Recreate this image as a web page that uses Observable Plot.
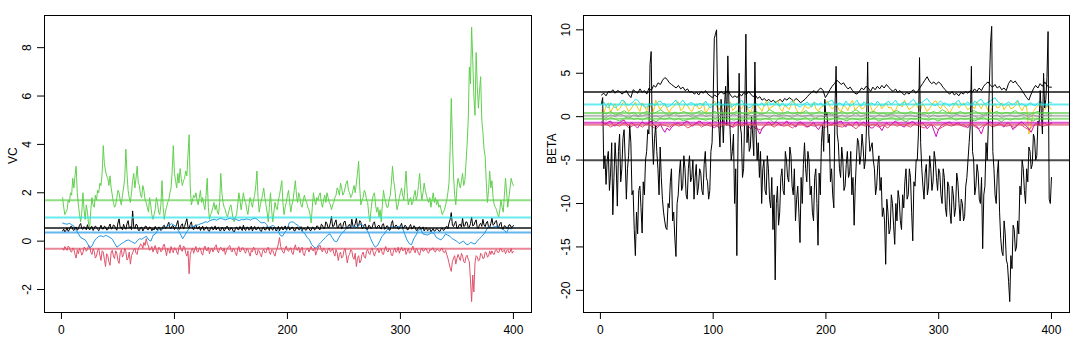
<!DOCTYPE html>
<html>
<head>
<meta charset="utf-8">
<script src="https://cdn.jsdelivr.net/npm/d3@7"></script>
<script src="https://cdn.jsdelivr.net/npm/@observablehq/plot@0.6"></script>
<style>
  html, body { margin: 0; padding: 0; background: #fff; }
  #wrap { display: flex; width: 1076px; height: 346px; }
</style>
</head>
<body>
<div id="wrap"></div>
<script>
// Iterations 1..400 (series sampled at regular steps across the chain)
const xTicks = [0, 100, 200, 300, 400];
const vcTicks = [-2, 0, 2, 4, 6, 8];
const betaTicks = [-20, -15, -10, -5, 0, 5, 10];

// ---------- VC panel (400 iterations) ----------
const vcBlack = [
0.42,0.50,0.38,0.45,0.55,0.40,0.47,0.60,0.62,0.48,0.44,0.56,0.58,0.45,0.51,0.66,0.73,0.52,0.49,0.60,
0.55,0.47,0.68,0.53,0.46,0.58,0.61,0.44,0.52,0.63,0.57,0.49,0.43,0.55,0.66,0.51,0.50,0.62,0.59,0.46,
0.48,0.60,0.71,0.50,0.53,0.67,0.64,0.52,0.45,0.75,0.92,0.56,0.58,0.47,0.70,0.55,0.49,0.72,0.85,0.54,
0.60,0.48,1.25,0.58,0.52,0.70,0.67,0.45,0.44,0.56,0.58,0.42,0.50,0.61,0.62,0.48,0.47,0.59,0.55,0.43,
0.52,0.46,0.61,0.50,0.45,0.58,0.57,0.44,0.49,0.62,0.66,0.52,0.54,0.68,0.78,0.55,0.51,0.64,0.63,0.48,
0.58,0.70,0.85,0.49,0.52,0.66,0.72,0.50,0.61,0.78,0.93,0.57,0.55,0.69,0.80,0.52,0.47,0.63,0.68,0.51,
0.52,0.61,0.44,0.55,0.62,0.45,0.48,0.59,0.57,0.43,0.41,0.54,0.60,0.47,0.50,0.63,0.46,0.55,0.58,0.44,
0.43,0.57,0.55,0.42,0.49,0.60,0.61,0.46,0.45,0.56,0.53,0.41,0.38,0.52,0.59,0.48,0.47,0.61,0.52,0.44,
0.66,0.50,0.44,0.58,0.57,0.45,0.50,0.62,0.42,0.53,0.61,0.47,0.48,0.59,0.55,0.43,0.40,0.56,0.58,0.46,
0.47,0.60,0.53,0.44,0.62,0.51,0.45,0.57,0.56,0.42,0.49,0.61,0.43,0.54,0.60,0.46,0.51,0.63,0.47,0.55,
0.62,0.46,0.50,0.59,0.55,0.42,0.44,0.57,0.58,0.47,0.48,0.60,0.41,0.53,0.54,0.45,0.47,0.61,0.52,0.44,
0.45,0.58,0.57,0.46,0.50,0.63,0.61,0.49,0.48,0.70,0.66,0.52,0.53,0.80,0.72,0.55,0.58,0.75,1.02,0.60,
0.62,0.77,0.88,0.56,0.55,0.70,0.74,0.50,0.60,0.79,0.83,0.57,0.52,0.66,0.69,0.54,0.91,0.62,0.58,0.72,
0.95,0.60,0.64,0.85,0.78,0.52,0.55,0.68,0.70,0.48,0.49,0.66,0.62,0.51,0.57,0.74,0.80,0.55,0.52,0.63,
0.66,0.54,0.50,0.69,0.72,0.49,0.55,0.64,0.61,0.45,0.47,0.73,0.85,0.56,0.58,0.67,0.63,0.50,0.51,0.62,
0.74,0.52,0.55,0.66,0.62,0.47,0.48,0.61,0.69,0.50,0.53,0.64,0.58,0.44,0.45,0.57,0.60,0.49,0.50,0.59,
0.42,0.51,0.55,0.43,0.47,0.52,0.38,0.46,0.52,0.41,0.44,0.53,0.49,0.42,0.40,0.51,0.55,0.44,0.47,0.58,
0.62,0.52,0.75,0.90,1.18,0.66,0.60,0.74,0.82,0.53,0.55,0.68,0.70,0.58,0.95,0.61,0.63,0.80,0.78,0.56,
0.58,0.72,1.00,0.63,0.66,0.79,0.88,0.55,0.52,0.69,0.74,0.61,0.90,0.67,0.60,0.75,0.82,0.58,0.56,0.73,
0.95,0.66,0.70,0.82,0.85,0.57,0.58,0.72,0.78,0.52,0.50,0.64,0.62,0.53,0.55,0.67,0.68,0.57,0.60,0.65];

const vcRed = [
-0.30,-0.38,-0.22,-0.31,-0.38,-0.20,-0.25,-0.42,-0.45,-0.28,-0.33,-0.55,-0.70,-0.36,-0.52,-0.30,-0.40,-0.58,-0.48,-0.25,
-0.28,-0.42,-0.35,-0.18,-0.20,-0.46,-0.55,-0.32,-0.42,-0.70,-0.62,-0.38,-0.30,-0.58,-0.80,-0.40,-0.45,-0.75,-1.05,-0.52,
-0.60,-0.85,-1.00,-0.45,-0.38,-0.62,-0.72,-0.40,-0.50,-0.80,-0.92,-0.48,-0.35,-0.66,-0.55,-0.30,-0.42,-0.78,-0.70,-0.45,
-0.95,-0.60,-0.48,-0.36,-0.30,-0.50,-0.55,-0.28,-0.25,-0.12,-0.15,-0.30,-0.05,-0.18,0.10,-0.10,-0.20,-0.38,-0.32,-0.22,
-0.45,-0.30,-0.18,-0.40,-0.52,-0.26,-0.28,-0.44,-0.40,-0.20,-0.12,-0.36,-0.60,-0.30,-0.35,-0.50,-0.22,-0.38,-0.48,-0.27,
-0.30,-0.45,-0.55,-0.25,-0.15,-0.38,-0.42,-0.20,-0.25,-0.50,-0.62,-0.40,-1.35,-0.55,-0.38,-0.28,-0.50,-0.35,-0.22,-0.44,
-0.45,-0.28,-0.30,-0.50,-0.58,-0.32,-0.20,-0.38,-0.40,-0.25,-0.52,-0.36,-0.28,-0.45,-0.35,-0.22,-0.15,-0.40,-0.48,-0.30,
-0.25,-0.36,-0.42,-0.28,-0.55,-0.40,-0.30,-0.22,-0.18,-0.38,-0.45,-0.30,-0.35,-0.50,-0.60,-0.32,-0.22,-0.45,-0.40,-0.27,
-0.28,-0.42,-0.50,-0.30,-0.35,-0.48,-0.62,-0.38,-0.45,-0.25,-0.30,-0.52,-0.58,-0.36,-0.40,-0.55,-0.65,-0.42,-0.33,-0.47,
-0.48,-0.32,-0.25,-0.44,-0.55,-0.36,-0.38,-0.52,-0.62,-0.40,-0.30,-0.10,0.15,-0.22,-0.35,-0.46,-0.50,-0.30,-0.20,-0.38,
-0.42,-0.30,-0.28,-0.48,-0.55,-0.32,-0.15,-0.36,-0.38,-0.25,-0.48,-0.35,-0.25,-0.52,-0.60,-0.40,-0.35,-0.28,-0.45,-0.33,
-0.22,-0.38,-0.40,-0.25,-0.58,-0.42,-0.30,-0.20,-0.18,-0.36,-0.45,-0.28,-0.35,-0.48,-0.52,-0.33,-0.28,-0.44,-0.40,-0.30,
-0.50,-0.62,-0.35,-0.48,-0.80,-0.55,-0.45,-0.70,-0.65,-0.40,-0.30,-0.58,-0.90,-0.62,-0.55,-0.35,-0.40,-0.68,-0.75,-0.50,
-1.05,-0.72,-0.60,-0.90,-0.82,-0.55,-0.45,-0.66,-0.70,-0.42,-0.35,-0.50,-0.55,-0.36,-0.28,-0.48,-0.62,-0.44,-0.40,-0.30,
-0.48,-0.36,-0.30,-0.52,-0.55,-0.33,-0.22,-0.40,-0.45,-0.30,-0.35,-0.58,-0.60,-0.38,-0.28,-0.46,-0.42,-0.25,-0.50,-0.36,
-0.25,-0.40,-0.38,-0.28,-0.55,-0.42,-0.30,-0.50,-0.45,-0.32,-0.20,-0.38,-0.48,-0.30,-0.35,-0.52,-0.58,-0.36,-0.28,-0.42,
-0.40,-0.30,-0.32,-0.46,-0.50,-0.35,-0.38,-0.30,-0.28,-0.42,-0.45,-0.33,-0.35,-0.40,-0.42,-0.30,-0.30,-0.45,-0.48,-0.38,
-0.55,-0.70,-0.90,-1.10,-1.25,-0.85,-0.70,-0.60,-0.95,-0.72,-0.55,-0.68,-0.80,-0.50,-0.62,-0.85,-0.90,-0.65,-0.58,-0.75,
-0.85,-1.60,-2.50,-1.40,-2.10,-0.90,-0.60,-0.65,-0.82,-0.78,-0.50,-0.55,-0.72,-0.70,-0.45,-0.48,-0.66,-0.62,-0.40,-0.55,
-0.40,-0.52,-0.55,-0.38,-0.35,-0.46,-0.48,-0.32,-0.30,-0.44,-0.42,-0.36,-0.52,-0.40,-0.35,-0.48,-0.45,-0.30,-0.50,-0.42];

const vcGreen = [
1.80,1.40,1.10,1.20,1.30,1.70,1.60,2.00,1.90,2.60,2.20,2.70,3.10,2.00,1.50,1.10,0.80,1.20,2.00,1.30,
0.90,1.50,1.20,0.70,0.60,1.30,1.80,1.50,1.40,1.90,1.70,2.10,2.00,2.40,2.30,2.80,3.95,3.20,2.90,2.70,
2.60,2.30,2.70,2.20,1.90,1.60,1.40,1.50,1.80,2.10,2.00,1.70,1.50,1.90,2.20,2.60,3.80,2.80,2.10,1.80,
1.60,2.00,2.50,2.80,2.20,2.60,3.10,2.40,2.30,1.90,1.80,2.30,2.10,1.70,1.60,1.40,1.20,1.80,1.50,1.10,
0.90,1.10,1.30,1.80,1.60,1.20,1.10,1.50,2.50,1.40,0.90,1.20,1.40,1.60,1.70,2.00,2.20,2.90,3.95,2.80,
2.50,2.20,2.80,2.40,3.00,2.60,2.30,2.50,2.60,2.90,2.70,3.60,4.40,2.20,1.50,1.70,1.90,1.80,2.00,1.70,
1.50,1.80,2.10,1.60,1.80,1.50,1.30,1.90,2.60,1.40,0.90,1.10,1.20,1.40,1.60,1.30,1.50,1.20,1.10,1.60,
2.80,2.00,1.60,1.40,1.30,1.10,1.00,1.20,1.40,1.50,1.20,0.90,0.80,1.00,1.10,1.50,2.00,1.70,1.30,1.60,
2.00,1.70,1.60,1.30,1.10,1.50,1.80,1.60,1.40,1.70,1.90,2.30,2.90,1.80,1.20,1.50,1.70,1.90,2.20,1.80,
1.50,1.20,0.80,1.40,2.00,1.30,0.80,1.20,1.60,1.40,1.30,1.70,1.90,2.20,2.50,1.60,1.10,1.40,1.60,1.90,
2.10,1.60,1.20,1.50,1.70,2.10,2.50,1.90,1.60,2.00,1.80,1.50,1.40,1.70,1.90,1.70,1.60,1.40,1.30,1.10,
0.75,1.40,2.00,1.70,1.50,1.80,1.70,1.90,2.00,1.60,1.40,1.70,1.90,1.60,2.00,1.80,1.60,1.50,1.30,1.50,
1.60,1.80,1.90,2.20,2.10,1.90,2.40,2.20,1.90,2.00,2.20,2.40,2.50,2.10,2.00,1.80,1.90,2.10,2.30,2.00,
2.40,2.80,3.30,2.20,1.50,1.70,1.80,2.10,2.00,1.70,1.60,1.10,0.80,1.30,1.70,1.90,2.00,1.50,1.20,1.40,
1.00,1.30,0.80,1.50,2.10,1.80,1.60,1.40,1.40,1.70,1.90,2.40,3.10,2.50,2.20,1.70,1.30,1.50,1.80,2.00,
2.20,1.90,1.70,2.30,2.90,2.00,1.50,1.70,1.80,1.50,1.60,1.90,2.10,1.70,1.90,2.30,2.80,2.10,1.70,2.00,
2.40,2.10,1.90,1.70,1.60,1.80,1.40,1.70,2.00,1.60,1.80,1.50,1.70,1.40,1.50,1.30,1.10,1.20,1.30,1.50,
1.70,2.00,2.40,3.80,5.90,4.20,2.70,1.90,1.50,2.20,2.60,2.40,2.20,2.50,2.80,2.30,2.50,3.20,4.00,5.00,
7.20,6.50,8.85,7.50,6.00,5.20,7.80,6.40,5.50,6.20,6.80,5.00,4.50,3.80,3.50,2.40,1.60,2.10,2.90,2.20,
2.50,1.80,1.50,1.40,1.30,1.10,1.00,1.30,1.70,1.40,1.20,1.90,2.60,2.00,1.40,1.80,2.20,2.60,2.40,2.30];

const vcBlue = [
0.75,0.72,0.70,0.74,0.68,0.62,0.45,0.30,0.15,0.10,
0.05,-0.10,-0.28,-0.20,0.00,0.12,0.20,0.22,0.18,0.24,
0.20,0.15,0.08,-0.10,-0.25,-0.18,-0.10,-0.05,0.02,0.05,
0.00,-0.05,-0.10,0.02,0.10,0.08,0.15,0.20,0.05,0.00,
0.25,0.30,0.45,0.50,0.52,0.55,0.60,0.65,0.72,0.68,
0.60,0.45,0.30,0.10,0.25,0.40,0.55,0.62,0.60,0.65,
0.68,0.72,0.75,0.80,0.78,0.85,0.88,0.90,0.87,0.92,
0.95,0.90,0.88,0.92,0.95,0.90,0.93,0.88,0.85,0.90,
0.88,0.92,0.90,0.87,0.93,0.95,0.90,0.80,0.75,0.78,
0.70,0.55,0.62,0.65,0.55,0.45,0.25,0.20,0.35,0.45,
0.75,0.80,0.78,0.70,0.65,0.55,0.40,0.30,0.15,0.05,
-0.15,-0.25,-0.30,-0.15,-0.05,0.05,0.15,0.25,0.30,0.15,
0.00,-0.02,0.15,0.30,0.38,0.50,0.55,0.58,0.60,0.62,
0.55,0.68,0.70,0.60,0.50,0.35,0.10,-0.10,-0.25,-0.18,
0.00,0.20,0.30,0.45,0.52,0.60,0.58,0.55,0.60,0.62,
0.55,0.30,0.05,-0.10,-0.15,0.10,0.25,0.45,0.50,0.30,
0.28,0.25,0.30,0.35,0.32,0.15,0.10,0.05,0.15,0.30,
0.25,0.20,0.10,0.05,0.00,-0.10,-0.05,0.00,-0.12,-0.15,
-0.05,-0.08,-0.12,0.00,0.10,0.20,0.30,0.45,0.60,0.55,
0.58,0.60,0.62,0.55,0.50,0.45,0.35,0.55,0.50,0.60];

// posterior means drawn as horizontal lines
const vcMeanLabels = ["green", "cyan", "black", "blue", "red"];
const vcMeans = [1.69, 0.98, 0.54, 0.36, -0.31];

// ---------- BETA panel ----------
const betaBlackUpper = [
2.5,2.7,2.4,2.9,2.8,3.1,2.7,3.0,2.9,2.6,
2.8,3.0,2.5,2.2,3.1,2.9,2.7,3.2,2.8,3.0,
2.6,3.3,3.0,3.6,3.4,3.9,3.7,4.2,4.5,4.3,
3.9,3.7,3.5,3.3,3.6,3.2,3.4,3.0,3.2,2.8,
2.9,2.6,2.8,2.5,2.9,2.7,3.0,2.6,2.4,2.2,
2.5,2.3,2.7,2.9,2.6,2.8,3.0,2.5,2.2,2.4,
2.2,2.6,2.4,2.8,2.5,2.9,2.6,2.3,2.5,2.1,
2.3,1.9,2.1,1.8,2.0,1.7,1.9,1.6,1.8,2.0,
1.7,2.1,1.9,2.2,2.0,1.8,2.1,1.9,1.6,1.8,
2.0,2.3,2.6,2.8,3.0,2.7,3.1,3.3,3.0,2.2,
2.6,3.1,3.5,3.8,4.2,4.0,3.7,3.9,3.5,3.2,
3.4,3.0,2.7,2.6,2.9,3.3,3.1,3.5,3.3,2.9,
3.4,3.1,3.5,3.2,3.6,3.3,3.7,3.4,3.1,2.9,
3.2,2.8,3.0,2.7,2.5,2.8,2.6,2.9,3.1,2.7,
3.0,3.4,3.8,4.2,4.6,4.1,3.8,4.0,3.7,4.0,
3.8,3.4,3.1,2.8,2.6,2.9,2.5,2.7,2.4,2.8,
2.6,2.9,2.7,3.0,2.8,3.2,2.9,3.3,3.0,3.5,
3.8,4.0,3.6,3.4,3.7,3.3,3.5,3.1,3.3,3.0,
3.8,4.2,3.9,4.1,3.7,3.4,3.0,2.6,2.2,1.9,
2.6,3.2,3.6,3.3,3.8,3.5,4.0,3.6,3.4,3.4];

const betaBlackLower = [
1.5,2.2,-6.0,-4.5,-7.8,-5.0,-4.0,-8.5,-6.5,-3.0,-11.3,-7.0,-3.0,-5.5,-10.3,-4.0,-2.0,-7.5,-6.0,-2.5,
-1.5,-5.0,-9.5,-6.0,-4.5,-1.0,-3.0,-9.0,-8.5,-13.0,-16.0,-11.0,-13.5,-8.5,-8.0,-10.5,-13.4,-7.5,-9.0,-5.0,
-4.0,-1.5,-2.0,6.0,7.5,-2.0,-5.5,-2.5,-1.0,-4.0,-6.0,-9.0,-3.5,-7.0,-9.5,-11.0,-12.0,-12.8,-13.0,-10.0,
-10.5,-7.5,-6.0,-12.0,-11.0,-14.0,-16.1,-10.0,-9.0,-6.5,-5.0,-8.5,-8.0,-4.5,-6.0,-9.0,-9.5,-6.0,-4.5,-7.5,
-7.0,-5.0,-9.5,-7.0,-5.5,-9.0,-8.0,-6.0,-6.5,-8.5,-9.0,-5.5,-4.0,-7.0,-7.5,-9.5,-8.5,-4.0,-3.0,2.0,
9.0,9.5,10.0,1.0,-1.0,-3.5,2.0,0.5,-3.0,1.0,3.5,-1.0,7.0,1.5,-1.5,-5.0,-4.0,-2.0,-10.0,-6.0,
-16.0,-3.0,5.0,-1.0,-2.0,-7.0,-6.0,0.5,9.5,-3.0,-1.0,-4.0,-3.5,0.0,-2.0,-4.5,6.3,-1.5,-5.0,-3.0,
-7.0,-4.0,-10.0,-6.0,-5.0,-8.5,-9.0,-4.5,-6.0,-9.5,-10.5,-7.0,-13.0,-9.0,-18.8,-10.0,-8.0,-12.5,-11.0,-7.0,
-6.0,-8.5,-9.0,-4.0,-5.0,-7.0,-7.5,-3.5,-4.5,-8.0,-9.0,-6.0,-12.0,-9.5,-8.0,-11.0,-14.5,-7.0,-10.0,-5.5,
-3.0,-6.0,-7.5,-4.0,-5.0,-9.0,-8.0,-11.0,-12.0,-7.0,-6.0,-10.0,-14.8,-6.5,-9.0,-3.0,-1.0,-4.0,2.0,0.0,
0.5,-3.0,-2.0,-7.5,-6.0,-9.0,-10.5,1.0,5.8,-2.0,-3.0,-6.0,-7.0,-3.5,-5.0,-8.5,-8.0,-5.5,-4.0,-7.0,
-6.5,-4.0,-9.0,-7.0,-12.5,-8.0,-5.0,-2.5,-3.0,-5.5,-4.5,-2.0,-3.5,-6.0,-5.0,-1.0,6.3,-2.0,-4.0,-3.5,
-3.0,-5.0,-6.0,-9.0,-8.0,-5.5,-4.5,-8.5,-7.0,-11.5,-10.5,-12.0,-17.0,-9.5,-11.0,-13.5,-13.0,-9.0,-10.0,-12.5,
-14.7,-10.0,-12.0,-8.5,-9.5,-12.0,-13.0,-9.0,-10.5,-7.5,-6.0,-9.5,-9.0,-6.0,-7.0,-11.0,-14.3,-7.5,-8.0,-5.0,
-5.0,-2.0,6.8,-3.0,-6.0,-8.0,-9.5,-6.5,-5.5,-9.0,-8.0,-4.5,-6.0,-8.5,-7.5,-4.0,-5.0,-7.0,-8.5,-6.0,
-6.5,-9.0,-10.0,-6.0,-7.0,-10.5,-11.5,-7.5,-8.0,-11.0,-12.3,-8.0,-9.0,-11.5,-10.5,-6.5,-7.5,-10.0,-12.0,-9.5,
-10.0,-12.0,-11.5,-8.0,-7.0,-5.0,-3.0,-1.0,5.8,-4.0,-5.0,-9.0,-8.0,-5.5,-6.5,-9.5,-10.0,-7.0,-15.2,-9.0,
-8.0,-3.0,-5.0,-1.0,4.0,8.5,10.4,-4.0,-6.0,-9.0,-10.0,-6.5,-5.0,-11.0,-14.0,-15.5,-16.0,-12.0,-13.5,-16.5,
-17.0,-19.0,-21.3,-16.0,-17.5,-12.5,-13.0,-15.5,-15.0,-12.0,-13.5,-8.0,-9.0,-5.0,-6.0,-8.5,-10.0,-6.0,-7.5,-3.5,
-4.0,-6.0,-5.5,-2.0,-2.5,-5.0,-4.5,-0.5,-1.0,3.0,0.5,-2.0,5.0,1.0,2.0,4.5,9.8,-9.5,-10.0,-7.0];

const betaCyan = [
1.4,1.7,1.2,1.0,1.6,1.3,1.0,1.2,1.5,1.9,1.8,1.4,1.3,1.5,1.7,2.0,1.9,1.5,1.4,1.1,
1.1,1.3,1.6,1.4,1.3,1.7,1.8,1.5,1.5,1.1,1.2,1.4,1.7,1.9,1.4,1.6,1.9,1.5,1.3,1.6,
1.6,1.4,1.2,1.5,1.5,1.3,1.8,1.4,1.0,1.2,1.4,1.6,1.7,1.3,1.3,1.5,1.6,1.1,1.2,1.4,
1.5,1.7,1.9,1.4,1.3,1.0,1.1,1.4,1.6,1.3,1.4,1.6,1.2,1.5,1.7,1.4,1.5,1.8,1.3,1.2,
1.6,1.3,1.2,1.5,1.8,1.6,1.4,1.2,1.1,1.4,1.5,1.7,1.3,1.1,1.7,1.5,1.4,1.6,1.2,1.5,
1.6,1.8,1.9,1.4,1.3,1.6,1.5,1.2,1.8,1.5,1.2,1.4,1.6,1.9,1.4,1.2,1.7,1.5,1.3,1.6,
1.5,1.3,1.8,1.5,1.2,1.4,1.6,1.8,1.4,1.6,1.9,1.5,1.3,1.6,1.7,1.4,1.5,1.8,2.0,1.6,
1.4,1.6,1.7,1.9,2.1,1.7,1.5,1.3,1.3,1.6,1.8,1.5,1.6,1.4,1.2,1.5,1.5,1.7,1.9,1.4,
1.4,1.5,1.7,1.4,1.3,1.8,1.6,1.9,2.0,1.6,1.5,1.7,1.8,2.0,2.2,1.8,1.6,1.4,1.3,1.5,
1.7,1.5,1.4,1.6,1.9,1.4,1.5,1.3,1.2,1.5,1.6,1.3,1.3,1.6,1.8,1.5,1.4,1.2,1.7,1.6];

const betaYellow = [
0.8,0.4,1.2,1.6,0.5,1.0,1.5,0.7,0.9,1.4,1.8,1.1,0.6,0.9,1.3,1.7,1.0,0.6,1.6,1.2,
0.7,1.5,1.1,0.6,1.9,1.3,0.8,1.2,1.4,0.9,0.5,1.0,1.2,1.6,1.7,0.7,0.9,1.5,1.3,0.8,
0.6,1.2,1.5,0.9,1.0,1.6,0.4,0.8,1.2,1.5,1.8,1.1,0.8,1.3,1.4,0.6,1.1,1.7,0.7,1.0,
1.6,1.1,0.9,1.4,1.3,0.7,0.5,1.2,1.7,1.3,1.0,0.6,1.4,1.8,0.8,1.1,1.2,1.5,1.9,0.9,
0.6,1.3,1.1,0.8,1.5,1.9,0.9,0.5,0.3,0.8,1.3,1.0,1.0,1.4,1.6,0.8,0.7,1.1,1.2,1.6,
1.8,1.2,0.9,1.1,1.4,0.8,0.6,1.3,1.1,0.7,1.5,1.9,0.8,1.0,1.3,0.9,1.0,1.4,1.7,1.2,
0.5,0.9,1.2,1.5,0.9,1.2,1.6,1.0,1.1,0.6,0.7,1.3,1.4,1.1,1.9,1.3,0.8,1.0,1.2,1.6,
1.0,0.7,1.5,1.1,0.6,0.9,1.3,1.7,1.8,1.2,0.9,1.4,1.1,0.8,0.4,0.9,1.4,1.6,1.0,1.3,
1.6,1.2,0.8,1.0,1.2,0.9,1.7,1.3,0.9,1.5,1.3,0.7,0.6,1.1,1.5,1.0,1.1,1.6,0.8,1.2,
1.4,0.9,1.0,1.3,1.8,1.1,0.7,1.2,1.2,-2.0,-0.9,0.6,1.0,1.3,1.5,0.9,0.8,1.2,1.1,0.9];

const betaGreen1 = [
0.5,0.3,0.6,0.2,0.4,0.7,0.3,0.5,0.1,0.4,
0.6,0.3,0.5,0.8,0.4,0.2,0.5,0.3,0.6,0.4,
0.2,0.5,0.7,0.3,0.4,0.6,0.1,0.5,0.3,0.4,
0.7,0.4,0.2,0.5,0.6,0.3,0.4,0.8,0.5,0.2,
0.4,0.6,0.3,0.5,0.4,0.7,0.2,0.4,0.6,0.3,
0.5,0.2,0.4,0.6,0.3,0.5,0.8,0.4,0.3,0.5,
0.6,0.3,0.4,0.2,0.5,0.7,0.4,0.3,0.6,0.4,
0.2,0.5,0.3,0.6,0.4,0.8,0.5,0.3,0.4,0.6,
0.3,0.5,0.7,0.4,0.2,0.5,0.4,0.6,0.3,0.5,
0.4,0.7,0.3,0.5,0.2,0.4,0.6,0.4,0.5,0.3];

const betaGray = [
0.1,-0.1,0.2,0.0,0.3,0.1,-0.2,0.2,0.0,0.1,
0.3,0.0,0.1,-0.1,0.2,0.1,0.4,0.0,0.1,0.2,
-0.1,0.1,0.3,0.0,0.2,-0.2,0.1,0.2,0.0,0.3,
0.1,-0.1,0.2,0.1,0.0,0.3,0.1,-0.1,0.2,0.0,
0.2,0.1,-0.1,0.3,0.0,0.1,0.2,-0.2,0.1,0.0,
0.3,0.1,0.0,0.2,-0.1,0.1,0.4,0.0,0.2,0.1,
-0.1,0.2,0.0,0.1,0.3,0.0,-0.2,0.1,0.2,0.0,
0.1,0.3,-0.1,0.2,0.0,0.1,0.2,-0.1,0.3,0.1,
0.0,0.2,0.1,-0.2,0.1,0.3,0.0,0.2,-0.1,0.1,
0.2,0.0,0.1,0.3,-0.1,0.2,0.0,0.1,0.2,0.1];

const betaGreen2 = [
-0.2,-0.4,-0.1,-0.3,-0.5,-0.2,0.0,-0.3,-0.2,-0.4,
-0.1,-0.3,-0.6,-0.2,-0.3,-0.1,-0.4,-0.2,-0.5,-0.3,
-0.2,-0.1,-0.3,-0.4,-0.2,-0.6,-0.3,-0.1,-0.2,-0.4,
-0.3,-0.5,-0.2,-0.1,-0.3,-0.4,-0.2,-0.3,-0.7,-0.2,
-0.1,-0.3,-0.2,-0.4,-0.3,-0.1,-0.5,-0.2,-0.3,-0.2,
-0.4,-0.2,-0.1,-0.3,-0.5,-0.2,-0.3,-0.4,-0.1,-0.3,
-0.2,-0.5,-0.3,-0.2,-0.1,-0.4,-0.3,-0.6,-0.2,-0.3,
-0.1,-0.3,-0.4,-0.2,-0.5,-0.3,-0.2,-0.1,-0.4,-0.2,
-0.3,-0.2,-0.5,-0.3,-0.1,-0.4,-0.2,-0.3,-0.6,-0.2,
-0.4,-0.2,-0.3,-0.1,-0.3,-0.5,-0.2,-0.3,-0.2,-0.4];

const betaMagenta = [
-0.6,-0.8,-0.9,-0.6,-0.5,-0.9,-1.1,-0.8,-0.7,-0.5,-0.4,-0.8,-1.0,-0.7,-0.8,-1.1,-1.3,-0.9,-0.6,-0.8,
-0.9,-0.7,-0.5,-0.9,-1.2,-1.0,-0.8,-1.4,-1.8,-1.3,-1.6,-1.2,-1.0,-0.8,-0.7,-1.0,-0.9,-0.6,-0.5,-0.8,
-1.1,-0.9,-0.8,-0.5,-0.6,-0.9,-1.0,-0.8,-0.7,-1.1,-1.3,-1.0,-0.9,-0.6,-0.5,-0.9,-0.8,-1.1,-1.2,-0.7,
-0.6,-0.8,-1.0,-0.7,-0.8,-1.1,-1.4,-0.9,-0.7,-1.5,-2.0,-1.4,-1.1,-0.8,-0.6,-0.9,-0.9,-0.6,-0.7,-1.0,
-1.0,-0.7,-0.5,-0.9,-0.8,-1.0,-1.2,-0.7,-0.6,-0.8,-0.9,-1.2,-1.1,-0.8,-0.7,-1.2,-1.5,-1.0,-0.8,-0.6,
-0.6,-0.9,-1.0,-0.7,-0.8,-0.6,-0.5,-0.9,-1.2,-0.8,-0.9,-1.1,-0.7,-0.6,-1.1,-0.8,-0.6,-1.0,-0.9,-1.3,
-1.3,-1.0,-0.8,-1.2,-1.6,-1.1,-0.7,-0.9,-1.0,-0.7,-0.5,-0.8,-0.9,-1.1,-1.2,-0.8,-0.8,-0.6,-0.6,-0.9,
-1.0,-0.8,-0.7,-1.0,-1.4,-1.1,-0.9,-1.6,-2.3,-1.5,-1.1,-0.9,-0.8,-0.7,-0.6,-0.9,-1.0,-0.8,-0.7,-1.0,
-0.9,-1.1,-1.3,-0.9,-0.8,-1.0,-1.1,-1.5,-2.0,-1.2,-0.9,-0.7,-0.6,-0.8,-1.0,-0.9,-0.8,-1.0,-1.2,-0.8,
-0.7,-1.0,-1.5,-1.1,-0.9,-0.7,-0.6,-0.9,-1.1,-1.4,-1.8,-1.2,-0.8,-0.9,-1.0,-0.8,-0.7,-0.9,-0.9,-0.7];

const betaRed = [
-1.0,-0.8,-1.2,-0.9,-1.1,-0.7,-1.3,-1.0,-0.9,-1.2,
-0.8,-1.1,-1.4,-0.9,-1.0,-1.2,-0.8,-1.1,-0.9,-1.3,
-1.0,-0.7,-1.2,-0.9,-1.1,-1.0,-1.3,-0.8,-1.0,-1.2,
-0.9,-1.1,-0.8,-1.0,-1.4,-1.5,-1.0,-0.9,-1.2,-0.8,
-1.1,-1.0,-1.3,-0.9,-0.8,-1.2,-1.0,-1.1,-0.9,-1.3,
-1.0,-0.8,-1.1,-1.2,-0.9,-1.0,-1.4,-0.8,-1.1,-1.0,
-0.9,-1.2,-1.0,-1.3,-0.8,-1.1,-0.9,-1.0,-1.2,-0.8,
-1.1,-1.3,-0.9,-1.0,-1.5,-1.2,-0.9,-1.1,-0.8,-1.0,
-1.2,-0.9,-1.1,-1.4,-1.0,-0.8,-1.2,-1.0,-0.9,-1.1,
-1.0,-1.3,-0.8,-1.2,-1.5,-1.0,-0.9,-1.1,-1.0,-0.8];

const betaMeanLabels = ["black", "cyan", "green", "gray", "green", "magenta", "red", "black"];
const betaMeans = [2.83, 1.41, 0.42, 0.11, -0.23, -0.70, -0.92, -5.02];

// R 4.x default palette
const pal = {
  black: "#000000", red: "#DF536B", green: "#61D04F", blue: "#2297E6",
  cyan: "#28E2E5", magenta: "#CD0BBC", yellow: "#F5C710", gray: "#9E9E9E"
};

function rows(values) {
  const n = values.length;
  return values.map((v, i) => ({ iter: 1 + i * 399 / (n - 1), value: v }));
}

function panel({ yDomain, yTicks, label, traces, meanLabels, means, marginLeft }) {
  const ruleData = means.map((m, i) => ({ m, c: pal[meanLabels[i]] }));
  return Plot.plot({
    width: 538,
    height: 346,
    marginLeft,
    marginRight: 7,
    marginTop: 15,
    marginBottom: 34,
    x: { domain: [-15, 416] },
    y: { domain: yDomain },
    style: {
      fontFamily: "'Liberation Sans', Arial, sans-serif",
      fontSize: "12px",
      color: "#000",
      background: "#fff",
      overflow: "visible"
    },
    marks: [
      ...traces.map(([vals, col]) =>
        Plot.line(rows(vals), { x: "iter", y: "value", stroke: pal[col], strokeWidth: 1 })),
      Plot.ruleY(ruleData, { y: "m", stroke: "c", strokeWidth: 2, strokeOpacity: 0.7 }),
      Plot.frame({ stroke: "#000", strokeWidth: 1 }),
      Plot.axisX({ ticks: xTicks, tickSize: 7, tickPadding: 6, tickFormat: d => String(d), label: null }),
      Plot.axisY({ ticks: yTicks, tickSize: 7, tickPadding: 10, tickRotate: -90,
                   textAnchor: "middle", lineAnchor: "middle",
                   tickFormat: d => String(d), label: null }),
      Plot.text([label], { frameAnchor: "left", dx: -31, rotate: -90, fontSize: 12, text: d => d })
    ]
  });
}

const left = panel({
  yDomain: [-2.95, 9.33],
  yTicks: vcTicks,
  label: "VC",
  marginLeft: 44,
  traces: [[vcBlack, "black"], [vcRed, "red"], [vcGreen, "green"], [vcBlue, "blue"]],
  meanLabels: vcMeanLabels,
  means: vcMeans
});

const right = panel({
  yDomain: [-22.55, 11.65],
  yTicks: betaTicks,
  label: "BETA",
  marginLeft: 45,
  traces: [[betaBlackUpper, "black"], [betaYellow, "yellow"], [betaGreen1, "green"], [betaGray, "gray"],
           [betaGreen2, "green"], [betaRed, "red"], [betaMagenta, "magenta"], [betaCyan, "cyan"],
           [betaBlackLower, "black"]],
  meanLabels: betaMeanLabels,
  means: betaMeans
});

document.getElementById("wrap").append(left, right);
</script>
</body>
</html>
